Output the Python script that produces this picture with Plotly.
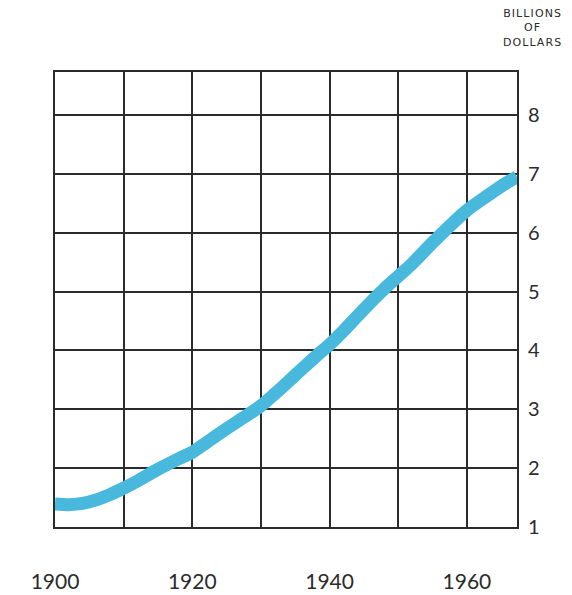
import plotly.graph_objects as go

# Data (billions of dollars)
years = [1900, 1902, 1904, 1906, 1908, 1910, 1912, 1915, 1918, 1920, 1922, 1925,
         1928, 1930, 1932, 1935, 1938, 1940, 1942, 1945, 1948, 1950, 1952, 1955,
         1958, 1960, 1963, 1965, 1967.3]
values = [1.39, 1.38, 1.40, 1.46, 1.55, 1.66, 1.78, 1.98, 2.16, 2.27, 2.43, 2.67,
          2.90, 3.06, 3.26, 3.58, 3.90, 4.10, 4.33, 4.70, 5.05, 5.26, 5.47, 5.83,
          6.17, 6.38, 6.63, 6.79, 6.95]

x_grid = [1900, 1910, 1920, 1930, 1940, 1950, 1960]
x_labels = ["1900", "", "1920", "", "1940", "", "1960"]
y_ticks = [1, 2, 3, 4, 5, 6, 7, 8]
y_labels = ["1", "2", "3", "4", "5", "6", "7", "8"]
unit_lines = ["BILLIONS", "OF", "DOLLARS"]

LINE = "#48b9dd"
INK = "#2b2b2b"
FONT = "Lato"

def spaced(word):
    return "\u200a".join(word)

unit_text = "<br>".join(spaced(w) for w in unit_lines)

fig = go.Figure()
fig.add_trace(go.Scatter(
    x=years, y=values, mode="lines",
    line=dict(color=LINE, width=13, shape="spline", smoothing=0.8),
    hoverinfo="skip", showlegend=False,
))

fig.update_layout(
    width=564, height=587,
    margin=dict(l=47, r=55, t=64, b=68, autoexpand=False),
    paper_bgcolor="white", plot_bgcolor="white",
    font=dict(family=FONT, color=INK),
    xaxis=dict(
        range=[1900, 1967.3], tickvals=x_grid, ticktext=x_labels,
        showgrid=True, gridcolor=INK, gridwidth=2,
        showline=True, linecolor=INK, linewidth=2, mirror=True,
        ticks="", zeroline=False, tickfont=dict(size=21, color=INK),
        ticklabelstandoff=35, automargin=False,
    ),
    yaxis=dict(
        range=[1, 8.73], tickvals=y_ticks, ticktext=y_labels, side="right",
        showgrid=True, gridcolor=INK, gridwidth=2,
        showline=True, linecolor=INK, linewidth=2, mirror=True,
        ticks="", zeroline=False, tickfont=dict(size=20, color=INK),
        ticklabelstandoff=5, automargin=False,
    ),
    annotations=[dict(
        text=unit_text, xref="paper", yref="paper", x=1.0 + 15 / 462, y=1.0 + 67 / 455,
        xanchor="center", yanchor="top", showarrow=False, align="center",
        font=dict(family="DejaVu Sans", size=11, color=INK),
    )],
)

fig.write_html("out.html")
